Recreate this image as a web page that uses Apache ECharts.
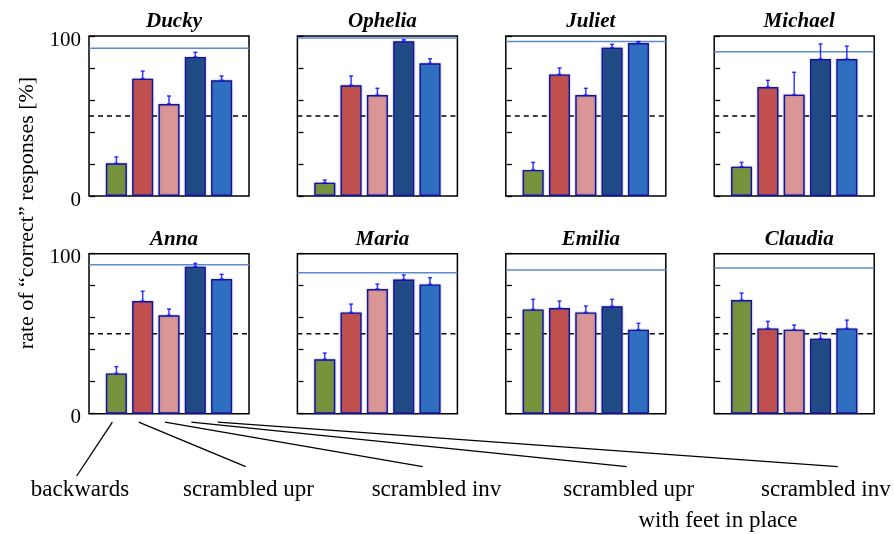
<!DOCTYPE html>
<html>
<head>
<meta charset="utf-8">
<script src="https://cdn.jsdelivr.net/npm/echarts@6/dist/echarts.min.js"></script>
<style>
  html, body { margin: 0; padding: 0; background: #fff; }
  #chart { width: 894px; height: 534px; }
</style>
</head>
<body>
<div id="chart"></div>
<script>
// Rate of "correct" responses per subject and stimulus condition (mean, upper error, baseline)
const subjects = ['Ducky', 'Ophelia', 'Juliet', 'Michael', 'Anna', 'Maria', 'Emilia', 'Claudia'];
const conditionLabels = ['backwards', 'scrambled upr', 'scrambled inv', 'scrambled upr', 'scrambled inv'];
const feetLabel = 'with feet in place';
const conditionColors = ['#77933c', '#c0504d', '#d99694', '#1f4a83', '#2f6fc0'];

const meanDucky   = [20.4, 73.3, 57.5, 86.9, 72.3];
const meanOphelia = [8.3, 69.2, 63.1, 96.7, 82.9];
const meanJuliet  = [16.3, 76.0, 63.1, 92.7, 95.6];
const meanMichael = [18.3, 68.1, 63.3, 85.6, 85.6];
const meanAnna    = [25.2, 70.4, 61.5, 91.9, 84.2];
const meanMaria   = [34.0, 63.3, 77.9, 83.8, 80.8];
const meanEmilia  = [65.2, 66.0, 63.3, 67.1, 52.5];
const meanClaudia = [71.0, 53.3, 52.5, 46.9, 53.3];

const errDucky   = [4.0, 4.8, 5.0, 2.9, 2.7];
const errOphelia = [1.7, 5.8, 4.2, 1.0, 2.9];
const errJuliet  = [4.7, 4.0, 4.2, 2.1, 0.9];
const errMichael = [2.7, 4.2, 14.0, 9.4, 8.1];
const errAnna    = [4.2, 6.1, 3.9, 2.1, 2.9];
const errMaria   = [3.9, 5.2, 3.1, 2.9, 4.2];
const errEmilia  = [6.3, 4.4, 4.0, 4.4, 4.0];
const errClaudia = [4.4, 4.4, 2.9, 3.7, 5.2];

// upright-walker baseline per subject (blue line)
const baseline = [92.3, 98.8, 96.5, 90.2, 93.1, 88.1, 89.8, 91.0];
const chanceLevel = 50;
const yTicks = [0, 100];

const means = [meanDucky, meanOphelia, meanJuliet, meanMichael, meanAnna, meanMaria, meanEmilia, meanClaudia];
const errs  = [errDucky, errOphelia, errJuliet, errMichael, errAnna, errMaria, errEmilia, errClaudia];

const serif = '"Liberation Serif", "DejaVu Serif", serif';
const colLeft = [89, 297.4, 505.8, 714.2];
const rowTop = [36, 253.7];
const panelW = 160, panelH = 160;
const xMin = -0.04, xMax = 6.04;

const grids = [], xAxes = [], yAxes = [], series = [], titles = [];

subjects.forEach((name, i) => {
  const col = i % 4, row = Math.floor(i / 4);
  grids.push({
    left: colLeft[col], top: rowTop[row], width: panelW, height: panelH,
    show: true, borderColor: '#000', borderWidth: 1.5, backgroundColor: 'transparent'
  });
  xAxes.push({
    gridIndex: i, type: 'value', min: xMin, max: xMax, show: false
  });
  yAxes.push({
    gridIndex: i, type: 'value', min: 0, max: 100, interval: 20,
    axisLine: { show: false },
    splitLine: { show: false },
    axisTick: { show: true, inside: true, length: 5, lineStyle: { color: '#000', width: 1.3 } },
    axisLabel: {
      show: col === 0, margin: 8,
      formatter: v => (yTicks.indexOf(v) >= 0 ? '{t|' + v + '}' : ''),
      rich: {
        t: { color: '#000', fontFamily: serif, fontSize: 21, padding: [row === 0 ? 9 : 7, 0, 0, 0] }
      }
    }
  });

  // chance level, behind the bars
  series.push({
    type: 'line', xAxisIndex: i, yAxisIndex: i, z: 1, silent: true,
    symbol: 'none', data: [[xMin, chanceLevel], [xMax, chanceLevel]],
    lineStyle: { color: '#000', width: 1.5, type: [5, 4] }
  });

  series.push({
    type: 'bar', xAxisIndex: i, yAxisIndex: i, z: 2, barWidth: 21,
    data: means[i].map((v, k) => ({
      value: [k + 1, v],
      itemStyle: { color: conditionColors[k] }
    })),
    itemStyle: {
      borderColor: '#14148c', borderWidth: 1.4,
      shadowColor: 'rgba(90,90,230,0.55)', shadowBlur: 2
    }
  });

  // upper error bars
  series.push({
    type: 'custom', xAxisIndex: i, yAxisIndex: i, z: 4,
    data: means[i].map((v, k) => [k + 1, v, errs[i][k]]),
    renderItem: (params, api) => {
      const x = api.value(0), v = api.value(1), e = api.value(2);
      const lo = api.coord([x, v]), hi = api.coord([x, v + e]);
      const st = { stroke: 'rgba(20,20,255,0.85)', lineWidth: 1.5 };
      return {
        type: 'group',
        children: [
          { type: 'line', shape: { x1: lo[0], y1: lo[1], x2: hi[0], y2: hi[1] }, style: st },
          { type: 'line', shape: { x1: hi[0] - 2, y1: hi[1], x2: hi[0] + 2, y2: hi[1] }, style: st },
          { type: 'line', shape: { x1: lo[0] - 2, y1: lo[1], x2: lo[0] + 2, y2: lo[1] }, style: st }
        ]
      };
    }
  });

  // baseline
  series.push({
    type: 'line', xAxisIndex: i, yAxisIndex: i, z: 3, silent: true,
    symbol: 'none', data: [[xMin, baseline[i]], [xMax, baseline[i]]],
    lineStyle: { color: '#5b8bd0', width: 1.5 }
  });

  titles.push({
    text: name, left: colLeft[col] + panelW / 2, top: rowTop[row] - 30, textAlign: 'center',
    textStyle: { fontFamily: serif, fontSize: 21, fontWeight: 'bold', fontStyle: 'italic', color: '#000' }
  });
});

const chart = echarts.init(document.getElementById('chart'), null, { renderer: 'canvas' });
chart.setOption({
  animation: false,
  backgroundColor: '#fff',
  title: titles,
  grid: grids,
  xAxis: xAxes,
  yAxis: yAxes,
  series: series
});

// condition labels under the panels, with leader lines to the bars of the first lower panel
const labelCenters = [80, 248.5, 436.5, 628.8, 825.8];
const leaderEnds = [[76.7, 476], [245.7, 466.7], [422.7, 466.7], [626.7, 466.7], [837.7, 466.7]];
const graphics = [];
conditionLabels.forEach((lab, k) => {
  const p = chart.convertToPixel({ gridIndex: 4 }, [k + 1, 0]);
  graphics.push({
    type: 'line', silent: true,
    shape: { x1: p[0] - 4, y1: p[1] + 8.5, x2: leaderEnds[k][0], y2: leaderEnds[k][1] },
    style: { stroke: '#000', lineWidth: 1.3 }
  });
  graphics.push({
    type: 'text', x: labelCenters[k], y: 490,
    style: { text: lab, font: '23px ' + serif, fill: '#000', textAlign: 'center', textVerticalAlign: 'middle' }
  });
});
graphics.push({
  type: 'text', x: 718, y: 521,
  style: { text: feetLabel, font: '23px ' + serif, fill: '#000', textAlign: 'center', textVerticalAlign: 'middle' }
});
graphics.push({
  type: 'text', x: 27, y: 213, rotation: Math.PI / 2,
  style: { text: 'rate of “correct” responses [%]', font: '22px ' + serif, fill: '#000', textAlign: 'center', textVerticalAlign: 'middle' }
});
chart.setOption({ graphic: graphics });
</script>
</body>
</html>
